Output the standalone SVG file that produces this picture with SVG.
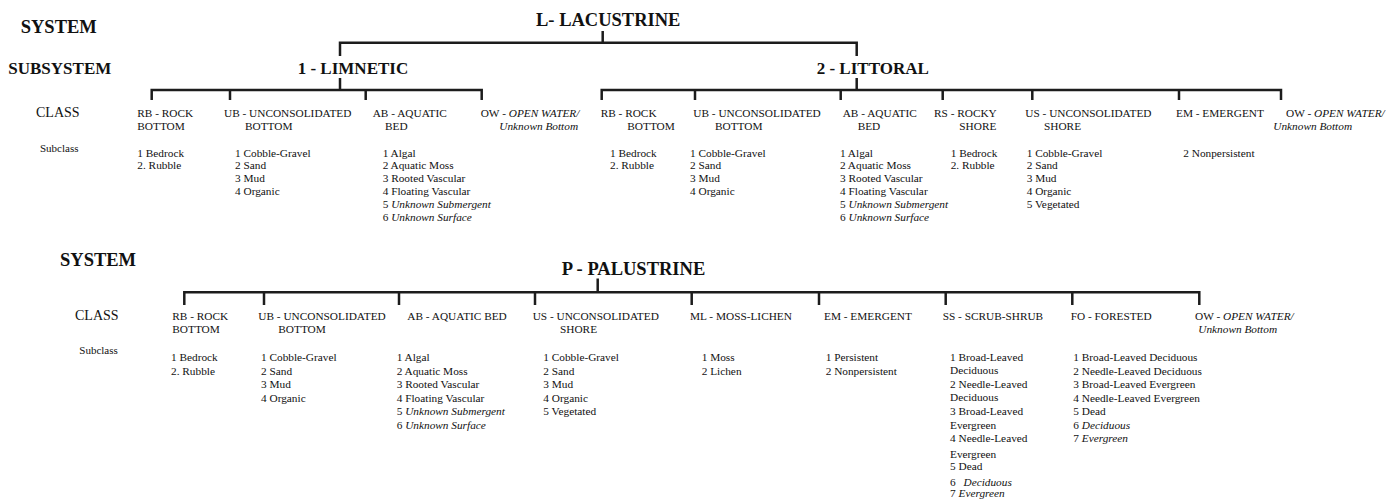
<svg xmlns="http://www.w3.org/2000/svg" width="1387" height="499" viewBox="0 0 1387 499">
<style>
text{font-family:"Liberation Serif","Times New Roman",serif;fill:#111}
.t1{font-size:18.5px;font-weight:bold}
.t2{font-size:17px;font-weight:bold}
.lvl{font-size:14px}
.sub{font-size:11px}
.cl{font-size:11.3px}
.it{font-style:italic}
.conn path{fill:none;stroke:#1c1c1c;stroke-width:2.5;stroke-linecap:butt;stroke-linejoin:miter}
</style>
<rect width="1387" height="499" fill="#fff"/>

<g id="connectors" class="conn">
  <path d="M340,56 V42.7 H856.7 V56"/>
  <path d="M602.7,31 V42.7"/>
  <path d="M151.7,100 V90 H481.7 V100"/>
  <path d="M230,90 V100 M365.7,90 V100"/>
  <path d="M340,78 V90"/>
  <path d="M601.7,100 V90 H1281 V100"/>
  <path d="M695,90 V100 M840.7,90 V100 M942.7,90 V100 M1032.3,90 V100 M1179,90 V100"/>
  <path d="M856.7,78 V90"/>
  <path d="M184.3,305 V292.3 H1199.3 V305"/>
  <path d="M264,292.3 V305 M399,292.3 V305 M535,292.3 V305 M691.7,292.3 V305 M819,292.3 V305 M945.7,292.3 V305 M1072.3,292.3 V305"/>
  <path d="M597.7,278.5 V292.3"/>
</g>

<!-- Row labels -->
<g id="lbl-system-top"><text class="t1" x="20.7" y="33.3">SYSTEM</text></g>
<g id="lbl-subsystem"><text class="t2" x="8.3" y="74">SUBSYSTEM</text></g>
<g id="lbl-class-top"><text class="lvl" x="36" y="116.5">CLASS</text></g>
<g id="lbl-subclass-top"><text class="sub" x="40" y="152">Subclass</text></g>
<g id="lbl-system-bottom"><text class="t1" x="60" y="265.7">SYSTEM</text></g>
<g id="lbl-class-bottom"><text class="lvl" x="75" y="320">CLASS</text></g>
<g id="lbl-subclass-bottom"><text class="sub" x="79.3" y="354">Subclass</text></g>

<!-- Lacustrine -->
<g id="lacustrine"><text class="t1" x="536" y="26">L- LACUSTRINE</text></g>
<g id="limnetic"><text class="t2" x="297.7" y="74">1 - LIMNETIC</text></g>
<g id="littoral"><text class="t2" x="816.7" y="74">2 - LITTORAL</text></g>

<g id="l1-rb">
  <text class="cl"><tspan x="137.3" y="116.5">RB - ROCK</tspan><tspan x="137.3" y="129.5">BOTTOM</tspan></text>
  <text class="cl"><tspan x="137.3" y="156.5">1 Bedrock</tspan><tspan x="137.3" y="169.3">2. Rubble</tspan></text>
</g>
<g id="l1-ub">
  <text class="cl"><tspan x="224" y="116.5">UB - UNCONSOLIDATED</tspan><tspan x="245" y="129.5">BOTTOM</tspan></text>
  <text class="cl"><tspan x="235" y="156.5">1 Cobble-Gravel</tspan><tspan x="235" y="169.3">2 Sand</tspan><tspan x="235" y="182.1">3 Mud</tspan><tspan x="235" y="194.9">4 Organic</tspan></text>
</g>
<g id="l1-ab">
  <text class="cl"><tspan x="372.7" y="116.5">AB - AQUATIC</tspan><tspan x="385" y="129.5">BED</tspan></text>
  <text class="cl"><tspan x="382.7" y="156.5">1 Algal</tspan><tspan x="382.7" y="169.3">2 Aquatic Moss</tspan><tspan x="382.7" y="182.1">3 Rooted Vascular</tspan><tspan x="382.7" y="194.9">4 Floating Vascular</tspan><tspan x="382.7" y="207.7">5 </tspan><tspan class="it">Unknown Submergent</tspan><tspan x="382.7" y="220.5">6 </tspan><tspan class="it">Unknown Surface</tspan></text>
</g>
<g id="l1-ow">
  <text class="cl"><tspan x="480.7" y="116.5">OW - </tspan><tspan class="it">OPEN WATER/</tspan><tspan class="it" x="499.3" y="129.5">Unknown Bottom</tspan></text>
</g>

<g id="l2-rb">
  <text class="cl"><tspan x="600.7" y="116.5">RB - ROCK</tspan><tspan x="627.3" y="129.5">BOTTOM</tspan></text>
  <text class="cl"><tspan x="610" y="156.5">1 Bedrock</tspan><tspan x="610" y="169.3">2. Rubble</tspan></text>
</g>
<g id="l2-ub">
  <text class="cl"><tspan x="693.3" y="116.5">UB - UNCONSOLIDATED</tspan><tspan x="715" y="129.5">BOTTOM</tspan></text>
  <text class="cl"><tspan x="690" y="156.5">1 Cobble-Gravel</tspan><tspan x="690" y="169.3">2 Sand</tspan><tspan x="690" y="182.1">3 Mud</tspan><tspan x="690" y="194.9">4 Organic</tspan></text>
</g>
<g id="l2-ab">
  <text class="cl"><tspan x="842.7" y="116.5">AB - AQUATIC</tspan><tspan x="857.7" y="129.5">BED</tspan></text>
  <text class="cl"><tspan x="840" y="156.5">1 Algal</tspan><tspan x="840" y="169.3">2 Aquatic Moss</tspan><tspan x="840" y="182.1">3 Rooted Vascular</tspan><tspan x="840" y="194.9">4 Floating Vascular</tspan><tspan x="840" y="207.7">5 </tspan><tspan class="it">Unknown Submergent</tspan><tspan x="840" y="220.5">6 </tspan><tspan class="it">Unknown Surface</tspan></text>
</g>
<g id="l2-rs">
  <text class="cl"><tspan x="934" y="116.5">RS - ROCKY</tspan><tspan x="959.3" y="129.5">SHORE</tspan></text>
  <text class="cl"><tspan x="950.7" y="156.5">1 Bedrock</tspan><tspan x="950.7" y="169.3">2. Rubble</tspan></text>
</g>
<g id="l2-us">
  <text class="cl"><tspan x="1025.3" y="116.5">US - UNCONSOLIDATED</tspan><tspan x="1044" y="129.5">SHORE</tspan></text>
  <text class="cl"><tspan x="1026.7" y="156.5">1 Cobble-Gravel</tspan><tspan x="1026.7" y="169.3">2 Sand</tspan><tspan x="1026.7" y="182.1">3 Mud</tspan><tspan x="1026.7" y="194.9">4 Organic</tspan><tspan x="1026.7" y="207.7">5 Vegetated</tspan></text>
</g>
<g id="l2-em">
  <text class="cl" x="1176" y="116.5">EM - EMERGENT</text>
  <text class="cl" x="1183.3" y="156.5">2 Nonpersistent</text>
</g>
<g id="l2-ow">
  <text class="cl"><tspan x="1286" y="116.5">OW - </tspan><tspan class="it">OPEN WATER/</tspan><tspan class="it" x="1273.3" y="129.5">Unknown Bottom</tspan></text>
</g>

<!-- Palustrine -->
<g id="palustrine"><text class="t1" x="561.7" y="275">P - PALUSTRINE</text></g>

<g id="p-rb">
  <text class="cl"><tspan x="172.3" y="320">RB - ROCK</tspan><tspan x="172.3" y="332.5">BOTTOM</tspan></text>
  <text class="cl"><tspan x="171" y="361">1 Bedrock</tspan><tspan x="171" y="374.5">2. Rubble</tspan></text>
</g>
<g id="p-ub">
  <text class="cl"><tspan x="258.3" y="320">UB - UNCONSOLIDATED</tspan><tspan x="278.3" y="332.5">BOTTOM</tspan></text>
  <text class="cl"><tspan x="261" y="361">1 Cobble-Gravel</tspan><tspan x="261" y="374.5">2 Sand</tspan><tspan x="261" y="388">3 Mud</tspan><tspan x="261" y="401.5">4 Organic</tspan></text>
</g>
<g id="p-ab">
  <text class="cl" x="407.3" y="320">AB - AQUATIC BED</text>
  <text class="cl"><tspan x="396.7" y="361">1 Algal</tspan><tspan x="396.7" y="374.5">2 Aquatic Moss</tspan><tspan x="396.7" y="388">3 Rooted Vascular</tspan><tspan x="396.7" y="401.5">4 Floating Vascular</tspan><tspan x="396.7" y="415">5 </tspan><tspan class="it">Unknown Submergent</tspan><tspan x="396.7" y="428.5">6 </tspan><tspan class="it">Unknown Surface</tspan></text>
</g>
<g id="p-us">
  <text class="cl"><tspan x="532.7" y="320">US - UNCONSOLIDATED</tspan><tspan x="560" y="332.5">SHORE</tspan></text>
  <text class="cl"><tspan x="543.3" y="361">1 Cobble-Gravel</tspan><tspan x="543.3" y="374.5">2 Sand</tspan><tspan x="543.3" y="388">3 Mud</tspan><tspan x="543.3" y="401.5">4 Organic</tspan><tspan x="543.3" y="415">5 Vegetated</tspan></text>
</g>
<g id="p-ml">
  <text class="cl" x="690" y="320">ML - MOSS-LICHEN</text>
  <text class="cl"><tspan x="701.7" y="361">1 Moss</tspan><tspan x="701.7" y="374.5">2 Lichen</tspan></text>
</g>
<g id="p-em">
  <text class="cl" x="824" y="320">EM - EMERGENT</text>
  <text class="cl"><tspan x="825.7" y="361">1 Persistent</tspan><tspan x="825.7" y="374.5">2 Nonpersistent</tspan></text>
</g>
<g id="p-ss">
  <text class="cl" x="942.7" y="320">SS - SCRUB-SHRUB</text>
  <text class="cl"><tspan x="950" y="361">1 Broad-Leaved</tspan><tspan x="950" y="374">Deciduous</tspan><tspan x="950" y="388">2 Needle-Leaved</tspan><tspan x="950" y="401">Deciduous</tspan><tspan x="950" y="415">3 Broad-Leaved</tspan><tspan x="950" y="428.5">Evergreen</tspan><tspan x="950" y="442">4 Needle-Leaved</tspan><tspan x="950" y="458">Evergreen</tspan><tspan x="950" y="470">5 Dead</tspan><tspan x="950" y="485.5">6 </tspan><tspan class="it" dx="5">Deciduous</tspan><tspan x="950" y="497">7 </tspan><tspan class="it">Evergreen</tspan></text>
</g>
<g id="p-fo">
  <text class="cl" x="1070.7" y="320">FO - FORESTED</text>
  <text class="cl"><tspan x="1073.3" y="361">1 Broad-Leaved Deciduous</tspan><tspan x="1073.3" y="374.5">2 Needle-Leaved Deciduous</tspan><tspan x="1073.3" y="388">3 Broad-Leaved Evergreen</tspan><tspan x="1073.3" y="401.5">4 Needle-Leaved Evergreen</tspan><tspan x="1073.3" y="415">5 Dead</tspan><tspan x="1073.3" y="428.5">6 </tspan><tspan class="it">Deciduous</tspan><tspan x="1073.3" y="442">7 </tspan><tspan class="it">Evergreen</tspan></text>
</g>
<g id="p-ow">
  <text class="cl"><tspan x="1195" y="320">OW - </tspan><tspan class="it">OPEN WATER/</tspan><tspan class="it" x="1198.3" y="332.5">Unknown Bottom</tspan></text>
</g>
</svg>
